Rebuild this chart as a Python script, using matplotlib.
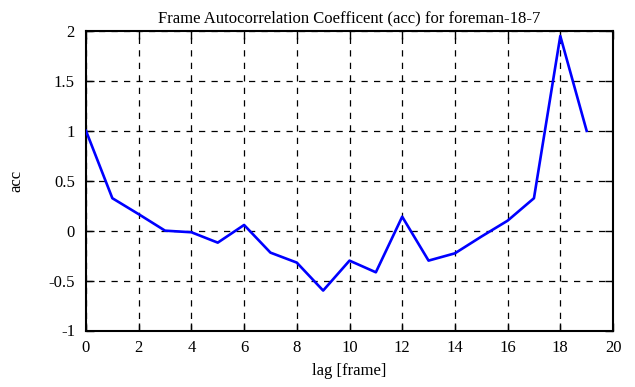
import numpy as np
import matplotlib
matplotlib.use("Agg")
import matplotlib.pyplot as plt
from matplotlib.ticker import FuncFormatter

# lag values and autocorrelation coefficients
lags = list(range(20))
acc = [1.0, 0.325, 0.165, 0.0, -0.016, -0.12, 0.057, -0.22, -0.32, -0.60,
       -0.30, -0.417, 0.14, -0.30, -0.227, -0.06, 0.10, 0.325, 1.95, 1.0]

x_ticks = list(range(0, 21, 2))
y_ticks = [-1, -0.5, 0, 0.5, 1, 1.5, 2]

plt.rcParams['font.family'] = ['Liberation Serif', 'DejaVu Serif']
plt.rcParams['font.size'] = 12

fig = plt.figure(figsize=(6.35, 3.87), dpi=100)
ax = fig.add_axes([86 / 635, 1 - 330.5 / 387, (613 - 86) / 635, (330.5 - 31) / 387])

ax.plot(lags, acc, color='#0000ff', lw=1.9, zorder=3)

ax.set_xlim(0, 20)
ax.set_ylim(-1, 2)
ax.set_xticks(x_ticks)
ax.set_yticks(y_ticks)
ax.yaxis.set_major_formatter(FuncFormatter(lambda v, p: ('%g' % v)))
ax.grid(True, color='black', linestyle=(0, (5, 5)), linewidth=0.9)
ax.tick_params(direction='in', top=True, right=True, length=6, width=1, labelsize=12)
ax.tick_params(axis='y', pad=8)
ax.tick_params(axis='x', pad=7)
for s in ax.spines.values():
    s.set_linewidth(1.5)

ax.set_title('Frame Autocorrelation Coefficent (acc) for foreman-18-7', fontsize=12, pad=6)
ax.set_xlabel('lag [frame]', fontsize=12, labelpad=5)
ax.set_ylabel('acc', fontsize=12, labelpad=17)

fig.savefig('out.png', dpi=100)
